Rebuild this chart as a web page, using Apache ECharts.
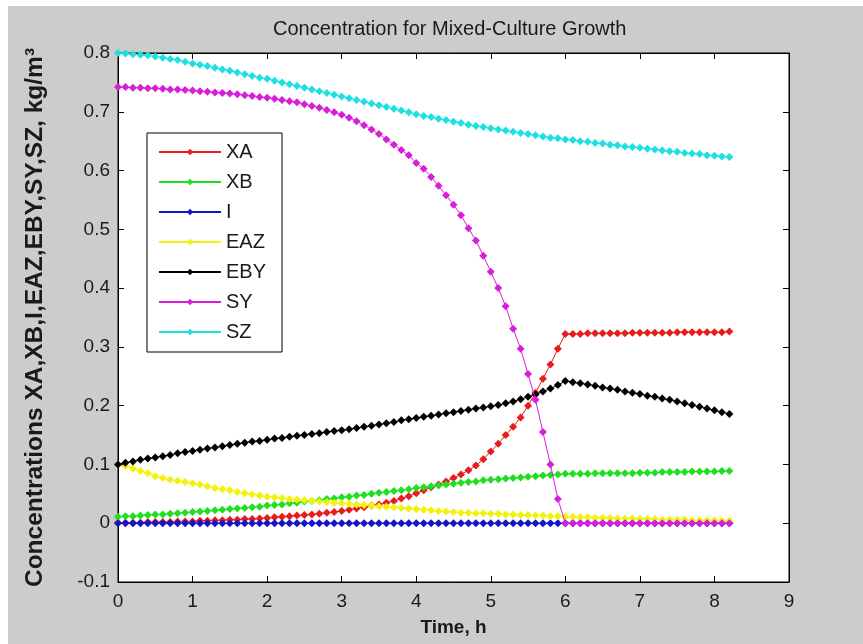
<!DOCTYPE html>
<html>
<head>
<meta charset="utf-8">
<title>Concentration for Mixed-Culture Growth</title>
<script src="https://cdn.jsdelivr.net/npm/echarts@6/dist/echarts.min.js"></script>
<style>
  html, body { margin: 0; padding: 0; background: #fff; }
  #chart { width: 863px; height: 644px; }
</style>
</head>
<body>
<div id="chart"></div>
<script>
// Simulation time, h
const time = [
  0.0, 0.1, 0.2, 0.3, 0.4, 0.5, 0.6, 0.7, 0.8, 0.9,
  1.0, 1.1, 1.2, 1.3, 1.4, 1.5, 1.6, 1.7, 1.8, 1.9,
  2.0, 2.1, 2.2, 2.3, 2.4, 2.5, 2.6, 2.7, 2.8, 2.9,
  3.0, 3.1, 3.2, 3.3, 3.4, 3.5, 3.6, 3.7, 3.8, 3.9,
  4.0, 4.1, 4.2, 4.3, 4.4, 4.5, 4.6, 4.7, 4.8, 4.9,
  5.0, 5.1, 5.2, 5.3, 5.4, 5.5, 5.6, 5.7, 5.8, 5.9,
  6.0, 6.1, 6.2, 6.3, 6.4, 6.5, 6.6, 6.7, 6.8, 6.9,
  7.0, 7.1, 7.2, 7.3, 7.4, 7.5, 7.6, 7.7, 7.8, 7.9,
  8.0, 8.1, 8.2
];

// Concentrations, kg/m3
const XA = [
  0.001, 0.001, 0.001, 0.001, 0.002, 0.002, 0.002, 0.002, 0.003, 0.003,
  0.003, 0.004, 0.004, 0.005, 0.005, 0.006, 0.006, 0.007, 0.007, 0.008,
  0.009, 0.010, 0.011, 0.012, 0.013, 0.014, 0.015, 0.016, 0.018, 0.019,
  0.021, 0.023, 0.025, 0.027, 0.030, 0.032, 0.035, 0.038, 0.042, 0.046,
  0.051, 0.056, 0.061, 0.066, 0.071, 0.077, 0.083, 0.090, 0.098, 0.109,
  0.122, 0.135, 0.150, 0.164, 0.180, 0.200, 0.222, 0.246, 0.270, 0.297,
  0.322, 0.322, 0.322, 0.323, 0.323, 0.323, 0.323, 0.323, 0.323, 0.324,
  0.324, 0.324, 0.324, 0.324, 0.324, 0.325, 0.325, 0.325, 0.325, 0.325,
  0.325, 0.325, 0.326
];

const XB = [
  0.011, 0.012, 0.012, 0.013, 0.014, 0.015, 0.015, 0.016, 0.017, 0.018,
  0.019, 0.020, 0.021, 0.022, 0.023, 0.024, 0.025, 0.026, 0.027, 0.028,
  0.030, 0.031, 0.032, 0.034, 0.035, 0.037, 0.038, 0.039, 0.041, 0.042,
  0.044, 0.045, 0.047, 0.048, 0.050, 0.052, 0.053, 0.055, 0.056, 0.058,
  0.060, 0.061, 0.063, 0.064, 0.066, 0.067, 0.069, 0.070, 0.071, 0.073,
  0.074, 0.075, 0.076, 0.077, 0.078, 0.079, 0.080, 0.081, 0.082, 0.083,
  0.084, 0.084, 0.084, 0.084, 0.085, 0.085, 0.085, 0.085, 0.085, 0.085,
  0.086, 0.086, 0.086, 0.087, 0.087, 0.087, 0.087, 0.088, 0.088, 0.088,
  0.088, 0.089, 0.089
];

const I = [
  0, 0, 0, 0, 0, 0, 0, 0, 0, 0,
  0, 0, 0, 0, 0, 0, 0, 0, 0, 0,
  0, 0, 0, 0, 0, 0, 0, 0, 0, 0,
  0, 0, 0, 0, 0, 0, 0, 0, 0, 0,
  0, 0, 0, 0, 0, 0, 0, 0, 0, 0,
  0, 0, 0, 0, 0, 0, 0, 0, 0, 0,
  0, 0, 0, 0, 0, 0, 0, 0, 0, 0,
  0, 0, 0, 0, 0, 0, 0, 0, 0, 0,
  0, 0, 0
];

const EAZ = [
  0.100, 0.097, 0.093, 0.089, 0.085, 0.080, 0.077, 0.074, 0.072, 0.070,
  0.068, 0.066, 0.063, 0.060, 0.058, 0.056, 0.053, 0.051, 0.049, 0.047,
  0.045, 0.044, 0.043, 0.041, 0.040, 0.039, 0.038, 0.037, 0.036, 0.035,
  0.034, 0.033, 0.032, 0.031, 0.030, 0.029, 0.028, 0.027, 0.026, 0.025,
  0.024, 0.023, 0.022, 0.021, 0.020, 0.019, 0.018, 0.018, 0.017, 0.017,
  0.016, 0.016, 0.015, 0.015, 0.014, 0.014, 0.013, 0.013, 0.012, 0.012,
  0.011, 0.011, 0.010, 0.010, 0.009, 0.009, 0.009, 0.008, 0.008, 0.008,
  0.007, 0.007, 0.007, 0.006, 0.006, 0.006, 0.006, 0.005, 0.005, 0.005,
  0.005, 0.004, 0.004
];

const EBY = [
  0.100, 0.103, 0.105, 0.108, 0.110, 0.112, 0.114, 0.116, 0.119, 0.121,
  0.123, 0.125, 0.127, 0.129, 0.131, 0.133, 0.135, 0.137, 0.139, 0.140,
  0.142, 0.144, 0.145, 0.147, 0.149, 0.150, 0.152, 0.153, 0.155, 0.157,
  0.158, 0.160, 0.162, 0.164, 0.166, 0.168, 0.170, 0.172, 0.175, 0.177,
  0.179, 0.181, 0.183, 0.185, 0.187, 0.189, 0.191, 0.193, 0.195, 0.197,
  0.199, 0.201, 0.204, 0.207, 0.211, 0.215, 0.219, 0.224, 0.229, 0.235,
  0.242, 0.240, 0.238, 0.236, 0.234, 0.231, 0.229, 0.227, 0.224, 0.222,
  0.220, 0.217, 0.215, 0.212, 0.210, 0.207, 0.204, 0.201, 0.198, 0.195,
  0.192, 0.189, 0.186
];

const SY = [
  0.742, 0.742, 0.741, 0.741, 0.740, 0.740, 0.739, 0.738, 0.738, 0.737,
  0.736, 0.735, 0.734, 0.733, 0.732, 0.731, 0.730, 0.728, 0.727, 0.725,
  0.724, 0.722, 0.720, 0.718, 0.716, 0.713, 0.710, 0.707, 0.703, 0.699,
  0.695, 0.690, 0.684, 0.677, 0.670, 0.662, 0.653, 0.644, 0.635, 0.626,
  0.613, 0.603, 0.589, 0.574, 0.558, 0.542, 0.524, 0.502, 0.481, 0.455,
  0.428, 0.400, 0.369, 0.331, 0.297, 0.254, 0.210, 0.155, 0.100, 0.041,
  0.000, 0.000, 0.000, 0.000, 0.000, 0.000, 0.000, 0.000, 0.000, 0.000,
  0.000, 0.000, 0.000, 0.000, 0.000, 0.000, 0.000, 0.000, 0.000, 0.000,
  0.000, 0.000, 0.000
];

const SZ = [
  0.800, 0.799, 0.798, 0.797, 0.796, 0.794, 0.792, 0.790, 0.788, 0.785,
  0.782, 0.780, 0.778, 0.775, 0.772, 0.770, 0.767, 0.764, 0.761, 0.758,
  0.756, 0.753, 0.750, 0.747, 0.744, 0.741, 0.738, 0.735, 0.732, 0.729,
  0.726, 0.723, 0.720, 0.717, 0.714, 0.711, 0.708, 0.705, 0.702, 0.699,
  0.696, 0.693, 0.691, 0.688, 0.686, 0.683, 0.681, 0.678, 0.676, 0.674,
  0.672, 0.670, 0.668, 0.666, 0.664, 0.662, 0.660, 0.658, 0.656, 0.655,
  0.653, 0.652, 0.650, 0.649, 0.647, 0.646, 0.644, 0.643, 0.641, 0.640,
  0.639, 0.637, 0.636, 0.634, 0.633, 0.632, 0.630, 0.629, 0.628, 0.626,
  0.625, 0.624, 0.623
];

const seriesNames = ['XA', 'XB', 'I', 'EAZ', 'EBY', 'SY', 'SZ'];
const seriesValues = [XA, XB, I, EAZ, EBY, SY, SZ];
const seriesColors = ['#e81c1c', '#1ee01e', '#1414c8', '#f2f20a', '#000000', '#d81ed8', '#1ee0e0'];

const FONT = '"Liberation Sans", Arial, Helvetica, sans-serif';
const INK = '#1a1a1a';

const chart = echarts.init(document.getElementById('chart'), null, { renderer: 'canvas' });

const valueLabel = v => String(Math.round(v * 10) / 10);

// Boxed axes: a black frame with inward ticks on all four sides
const baseAxis = {
  axisLine: { show: true, onZero: false, lineStyle: { color: '#000', width: 1 } },
  axisTick: { show: true, inside: true, length: 6, lineStyle: { color: '#000', width: 1 } },
  splitLine: { show: false }
};

const option = {
  animation: false,
  backgroundColor: '#cccccc',
  textStyle: { fontFamily: FONT },
  graphic: [
    { type: 'rect', shape: { x: 0, y: 0, width: 863, height: 6 }, style: { fill: '#fff' }, silent: true },
    { type: 'rect', shape: { x: 0, y: 0, width: 8, height: 644 }, style: { fill: '#fff' }, silent: true }
  ],
  title: {
    text: 'Concentration for Mixed-Culture Growth',
    left: 273,
    top: 19,
    padding: 0,
    textStyle: { fontFamily: FONT, fontSize: 20, fontWeight: 'normal', color: INK }
  },
  grid: {
    left: 118, right: 74, top: 53, bottom: 62,
    show: true, backgroundColor: '#fff', borderColor: '#000', borderWidth: 1
  },
  legend: {
    orient: 'vertical',
    left: 147, top: 133,
    backgroundColor: '#fff',
    borderColor: '#000', borderWidth: 1, borderRadius: 0,
    padding: [9, 16, 10, 11],
    itemWidth: 62, itemHeight: 8, itemGap: 10, itemTextGap: 8,
    textStyle: { fontFamily: FONT, fontSize: 20, color: INK },
    data: seriesNames
  },
  xAxis: [
    Object.assign({}, baseAxis, {
      type: 'value', position: 'bottom', min: 0, max: 9, interval: 1,
      axisLabel: { fontFamily: FONT, fontSize: 19, color: INK, margin: 10 },
      name: 'Time, h', nameLocation: 'middle', nameGap: 36,
      nameTextStyle: { fontFamily: FONT, fontSize: 19, fontWeight: 'bold', color: INK }
    }),
    Object.assign({}, baseAxis, {
      type: 'value', position: 'top', min: 0, max: 9, interval: 1,
      axisLabel: { show: false }
    })
  ],
  yAxis: [
    Object.assign({}, baseAxis, {
      type: 'value', position: 'left', min: -0.1, max: 0.8, interval: 0.1,
      axisLabel: { fontFamily: FONT, fontSize: 19, color: INK, margin: 8, formatter: valueLabel },
      name: 'Concentrations XA,XB,I,EAZ,EBY,SY,SZ, kg/m³', nameLocation: 'middle', nameGap: 70,
      nameTextStyle: { fontFamily: FONT, fontSize: 24.5, fontWeight: 'bold', color: INK }
    }),
    Object.assign({}, baseAxis, {
      type: 'value', position: 'right', min: -0.1, max: 0.8, interval: 0.1,
      axisLabel: { show: false }
    })
  ],
  series: seriesNames.map((name, k) => ({
    name: name,
    type: 'line',
    xAxisIndex: 0,
    yAxisIndex: 0,
    data: time.map((t, i) => [t, seriesValues[k][i]]),
    symbol: 'diamond',
    symbolSize: 8,
    showSymbol: true,
    color: seriesColors[k],
    lineStyle: { width: 1, color: seriesColors[k] },
    itemStyle: { color: seriesColors[k] },
    emphasis: { disabled: true },
    z: 2 + k
  }))
};

chart.setOption(option);
</script>
</body>
</html>
